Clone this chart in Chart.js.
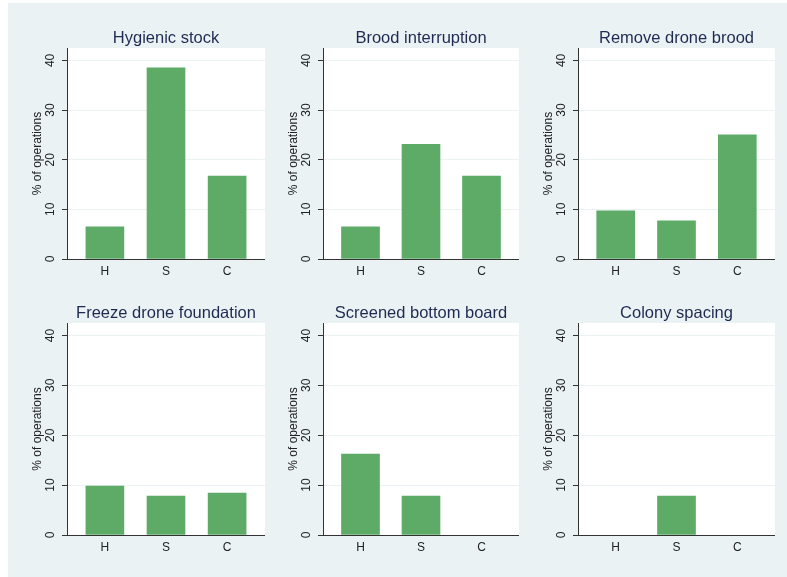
<!DOCTYPE html>
<html>
<head>
<meta charset="utf-8">
<script src="https://cdn.jsdelivr.net/npm/chart.js@4.4.1/dist/chart.umd.min.js"></script>
<style>
    html, body { margin: 0; padding: 0; background: #fff; }
    #page { position: relative; width: 787px; height: 577px; overflow: hidden; }
    #bg { position: absolute; left: 8px; top: 3px; right: 0; bottom: 0; background: #eaf2f3; }
    canvas { position: absolute; }
</style>
</head>
<body>
<div id="page"><div id="bg"></div></div>
<script>
const categories = ['H', 'S', 'C'];
const panelTitles = [
    'Hygienic stock', 'Brood interruption', 'Remove drone brood',
    'Freeze drone foundation', 'Screened bottom board', 'Colony spacing'
];
const hygienicStock = [6.5, 38.5, 16.7];
const broodInterruption = [6.5, 23.1, 16.7];
const removeDroneBrood = [9.7, 7.7, 25.0];
const freezeDroneFoundation = [9.8, 7.8, 8.4];
const screenedBottomBoard = [16.2, 7.8, 0];
const colonySpacing = [0, 7.8, 0];
const yTicks = [0, 10, 20, 30, 40];
const yAxisTitle = '% of operations';

const panelValues = [
    hygienicStock, broodInterruption, removeDroneBrood,
    freezeDroneFoundation, screenedBottomBoard, colonySpacing
];

// plot areas in page pixels
const colLeft = [67, 323, 578];
const colRight = [265, 519, 775];
const rowTop = [48, 323];
const rowBottom = [259, 535];
const Y_AXIS_W = 45;
const X_AXIS_H = 24;
const TITLE_H = 22;

const FONT = "'Liberation Sans', Arial, sans-serif";
const INK = '#222';
const AXIS = '#333';
const BAR = '#5dab67';

// white plot region
const plotBackground = {
    id: 'plotBackground',
    beforeDraw(chart) {
        const { ctx, chartArea: a } = chart;
        ctx.save();
        ctx.fillStyle = '#fff';
        ctx.fillRect(a.left, a.top, a.right - a.left, a.bottom - a.top);
        ctx.restore();
    }
};

// title centred over the plot region
const panelTitle = {
    id: 'panelTitle',
    afterDraw(chart, args, opts) {
        const { ctx, chartArea: a } = chart;
        ctx.save();
        ctx.font = '16.5px ' + FONT;
        ctx.fillStyle = '#1e2a52';
        ctx.textAlign = 'center';
        ctx.textBaseline = 'alphabetic';
        ctx.fillText(opts.text, (a.left + a.right) / 2, a.top - 5);
        ctx.restore();
    }
};

function makePanel(idx) {
    const r = Math.floor(idx / 3);
    const c = idx % 3;
    const canvas = document.createElement('canvas');
    const w = colRight[c] - colLeft[c] + Y_AXIS_W;
    const h = TITLE_H + (rowBottom[r] - rowTop[r]) + X_AXIS_H;
    canvas.width = w;
    canvas.height = h;
    canvas.style.left = (colLeft[c] - Y_AXIS_W) + 'px';
    canvas.style.top = (rowTop[r] - TITLE_H) + 'px';
    document.getElementById('page').appendChild(canvas);

    const values = panelValues[idx];

    new Chart(canvas.getContext('2d'), {
        type: 'bar',
        data: {
            datasets: [{
                data: values.map((v, i) => ({ x: i, y: v })),
                // empty categories get no visible bar
                backgroundColor: ctx => (ctx.raw && ctx.raw.y > 0 ? BAR : 'rgba(0,0,0,0)'),
                borderWidth: 0,
                barThickness: 38
            }]
        },
        options: {
            responsive: false,
            animation: false,
            layout: { padding: { top: TITLE_H, left: 0, right: 0, bottom: 0 } },
            plugins: {
                legend: { display: false },
                tooltip: { enabled: false },
                panelTitle: { text: panelTitles[idx] }
            },
            scales: {
                x: {
                    type: 'linear',
                    offset: false,
                    min: -0.62,
                    max: 2.62,
                    afterBuildTicks: s => { s.ticks = categories.map((cat, i) => ({ value: i })); },
                    afterFit: s => { s.height = X_AXIS_H; },
                    grid: { display: false, drawTicks: false, offset: false },
                    border: { color: AXIS, width: 1, z: 1 },
                    ticks: {
                        callback: v => categories[v],
                        padding: 5,
                        color: INK,
                        font: { family: FONT, size: 12 }
                    }
                },
                y: {
                    min: 0,
                    max: 42.5,
                    afterBuildTicks: s => { s.ticks = yTicks.map(v => ({ value: v })); },
                    afterFit: s => { s.width = Y_AXIS_W; },
                    grid: { color: '#eaf2f3', tickColor: AXIS, tickLength: 5, lineWidth: 1 },
                    border: { color: AXIS, width: 1 },
                    ticks: {
                        minRotation: 90,
                        maxRotation: 90,
                        crossAlign: 'center',
                        padding: 5,
                        color: INK,
                        font: { family: FONT, size: 12 }
                    },
                    title: {
                        display: true,
                        text: yAxisTitle,
                        color: INK,
                        padding: { top: 8, bottom: 0 },
                        font: { family: FONT, size: 12 }
                    }
                }
            }
        },
        plugins: [plotBackground, panelTitle]
    });
}

panelValues.forEach((v, i) => makePanel(i));
</script>
</body>
</html>
